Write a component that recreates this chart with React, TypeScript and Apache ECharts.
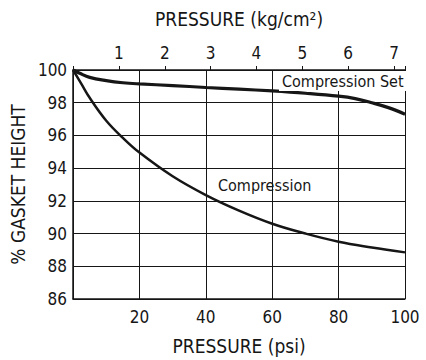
import React, { useEffect, useRef } from "react";
import * as echarts from "echarts";

const psiTicks = [0, 20, 40, 60, 80, 100];
const pctTicks = [86, 88, 90, 92, 94, 96, 98, 100];
const kgTicks = [1, 2, 3, 4, 5, 6, 7];

const compressionSetPsi = [0, 2, 5, 10, 15, 20, 30, 40, 50, 60, 70, 80, 85, 90, 95, 100];
const compressionSetPct = [100, 99.8, 99.55, 99.35, 99.22, 99.15, 99.05, 98.93, 98.83, 98.72, 98.58, 98.4, 98.25, 98.0, 97.7, 97.3];

const compressionPsi = [0, 2.5, 5, 10, 15, 20, 30, 40, 50, 60, 70, 80, 90, 100];
const compressionPct = [100, 99.15, 98.3, 96.9, 95.85, 94.95, 93.5, 92.35, 91.4, 90.6, 90.0, 89.5, 89.15, 88.85];

const FONT = '"DejaVu Sans Condensed", "Liberation Sans Narrow", sans-serif';
const INK = "#161616";

export default function App() {
  const ref = useRef<HTMLDivElement>(null);
  useEffect(() => {
    if (!ref.current) return;
    const chart = echarts.init(ref.current, null, { renderer: "svg" });
    const label = { fontFamily: FONT, fontSize: 17, color: INK };
    chart.setOption({
      animation: false,
      backgroundColor: "#ffffff",
      grid: { left: 72, right: 21, top: 70, bottom: 59 },
      xAxis: [
        {
          type: "value",
          position: "bottom",
          min: psiTicks[0],
          max: psiTicks[psiTicks.length - 1],
          interval: 20,
          name: "PRESSURE (psi)",
          nameLocation: "middle",
          nameGap: 37,
          nameTextStyle: { ...label, fontSize: 19 },
          axisLine: { show: true, lineStyle: { color: INK, width: 1.5 } },
          axisTick: { show: false },
          axisLabel: {
            ...label,
            margin: 9,
            formatter: (v: number) => (v === 0 ? "" : String(v)),
          },
          splitLine: { show: true, lineStyle: { color: INK, width: 1 } },
        },
        {
          type: "value",
          position: "top",
          min: 0,
          max: 7.24,
          interval: 1,
          name: "PRESSURE (kg/cm²)",
          nameLocation: "middle",
          nameGap: 42,
          nameTextStyle: { ...label, fontSize: 19 },
          axisLine: { show: true, lineStyle: { color: INK, width: 1.5 } },
          axisTick: { show: true, inside: false, length: 4, lineStyle: { color: INK } },
          axisLabel: {
            ...label,
            margin: 9,
            formatter: (v: number) =>
              kgTicks.indexOf(v) >= 0 ? String(v) : "",
          },
          splitLine: { show: false },
        },
      ],
      yAxis: {
        type: "value",
        min: pctTicks[0],
        max: pctTicks[pctTicks.length - 1],
        interval: 2,
        name: "% GASKET HEIGHT",
        nameLocation: "middle",
        nameGap: 38,
        nameTextStyle: { ...label, fontSize: 19 },
        axisLine: { show: true, lineStyle: { color: INK, width: 1.5 } },
        axisTick: { show: false },
        axisLabel: { ...label, margin: 6 },
        splitLine: { show: true, lineStyle: { color: INK, width: 1 } },
      },
      series: [
        {
          name: "Compression Set",
          type: "line",
          xAxisIndex: 0,
          smooth: 0.4,
          showSymbol: false,
          lineStyle: { color: INK, width: 3.2 },
          data: compressionSetPsi.map((x, i) => [x, compressionSetPct[i]]),
          z: 3,
        },
        {
          name: "Compression",
          type: "line",
          xAxisIndex: 0,
          smooth: 0.4,
          showSymbol: false,
          lineStyle: { color: INK, width: 2.5 },
          data: compressionPsi.map((x, i) => [x, compressionPct[i]]),
          z: 3,
        },
      ],
      graphic: [
        {
          type: "text",
          left: 279,
          top: 71,
          z: 10,
          style: {
            text: "Compression Set",
            font: `16px ${FONT}`,
            fill: INK,
            backgroundColor: "#ffffff",
            padding: [2, 3, 2, 3],
          },
        },
        {
          type: "text",
          left: 218,
          top: 177,
          z: 10,
          style: {
            text: "Compression",
            font: `16px ${FONT}`,
            fill: INK,
          },
        },
      ],
    });
    return () => chart.dispose();
  }, []);
  return (
    <div
      ref={ref}
      style={{ position: "fixed", left: 0, top: 0, width: 426, height: 360 }}
    />
  );
}
